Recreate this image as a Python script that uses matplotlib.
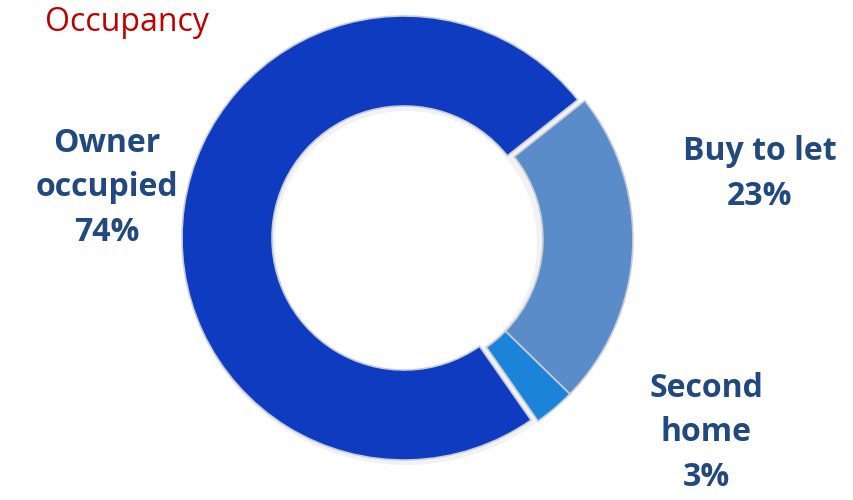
import numpy as np
import matplotlib.pyplot as plt

# Occupancy split of the portfolio
categories = ["Owner\noccupied", "Buy to let", "Second\nhome"]
shares = [74, 23, 3]
colors = ["#0e3bbf", "#5a8cc9", "#1c84d8"]

W, H = 854, 500
fig = plt.figure(figsize=(W / 100, H / 100), dpi=100)
ax = fig.add_axes([0, 0, 1, 1])

cx, cy = 404, H - 238
radius, ring = 222, 90
# owner-occupied slice ends at the top right, about 38.5 degrees
start = 38.5 + shares[0] / sum(shares) * 360

# soft drop shadow under the ring
shadow = ax.pie([1], radius=radius + 1, center=(cx + 2, cy - 4),
                colors=["#c9cdd4"], wedgeprops=dict(width=ring + 2, linewidth=0))[0]
for w in shadow:
    w.set_alpha(0.25)
    w.set_zorder(0)

wedges, _ = ax.pie(shares, colors=colors, startangle=start, counterclock=False,
                   radius=radius, center=(cx, cy),
                   wedgeprops=dict(width=ring, edgecolor="#c8ccd4", linewidth=1.2))

# pull the two minority slices out together
ang = np.deg2rad(-8)
off = 7
for w in wedges[1:]:
    w.set_center((cx + off * np.cos(ang), cy + off * np.sin(ang)))
for w in wedges:
    w.set_zorder(2)

label_color = "#21497f"
font = dict(fontsize=23, fontweight="bold", color=label_color, family="Open Sans",
            ha="center", va="center", linespacing=1.45)
ax.text(107, H - 188, f"{categories[0]}\n{shares[0]}%", **font)
ax.text(760, H - 174, f"{categories[1]}\n{shares[1]}%", **font)
ax.text(706, H - 433, f"{categories[2]}\n{shares[2]}%", **font)

ax.text(45, H - 22, "Occupancy", fontsize=23, color="#c00000", family="Open Sans",
        ha="left", va="center")

ax.set_xlim(0, W)
ax.set_ylim(0, H)
ax.set_aspect("equal")
ax.axis("off")

fig.savefig("out.png", dpi=100)
